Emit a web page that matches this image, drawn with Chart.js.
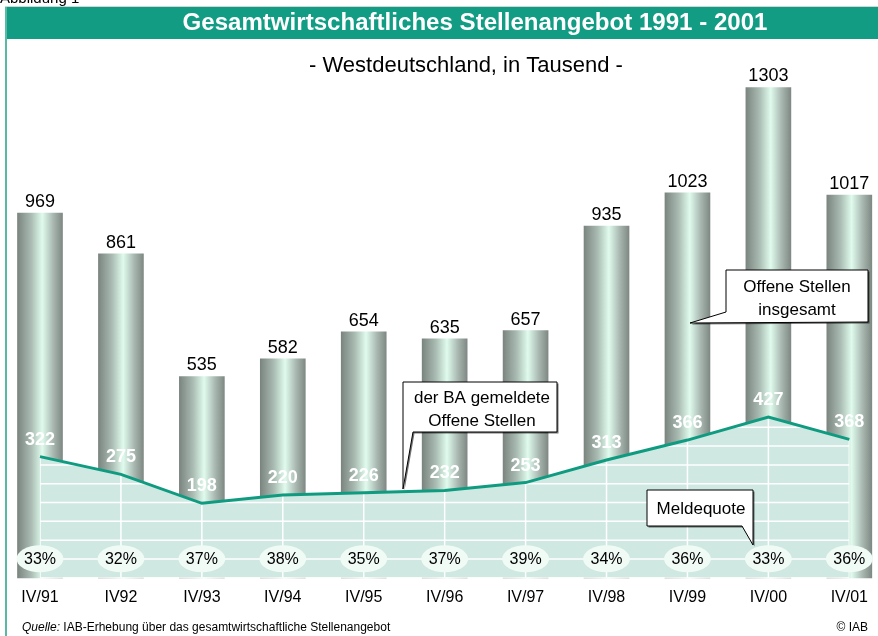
<!DOCTYPE html>
<html>
<head>
<meta charset="utf-8">
<script src="https://cdn.jsdelivr.net/npm/chart.js@4/dist/chart.umd.min.js"></script>
<style>
html,body{margin:0;padding:0;background:#fff;}
#wrap{width:878px;height:636px;}
</style>
</head>
<body>
<div id="wrap"><canvas id="c" width="878" height="636"></canvas></div>
<script>
const categories = ['IV/91','IV92','IV/93','IV/94','IV/95','IV/96','IV/97','IV/98','IV/99','IV/00','IV/01'];
const totalVacancies = [969, 861, 535, 582, 654, 635, 657, 935, 1023, 1303, 1017];
const registeredVacancies = [322, 275, 198, 220, 226, 232, 253, 313, 366, 427, 368];
const reportingRate = [33, 32, 37, 38, 35, 37, 39, 34, 36, 33, 36];
const gridStep = 50;

const FONT = "'Liberation Sans', Arial, sans-serif";
const TEAL = '#119c83';

function barGradient(ctx) {
  const chart = ctx.chart;
  if (ctx.type !== 'data' || !chart.scales.x) return '#a9b3ae';
  const x = chart.scales.x.getPixelForValue(ctx.dataIndex);
  if (!isFinite(x)) return '#a9b3ae';
  const g = chart.ctx.createLinearGradient(x - 22.5, 0, x + 22.5, 0);
  g.addColorStop(0, '#7b8580');
  g.addColorStop(0.3, '#a9bbb2');
  g.addColorStop(0.55, '#e0fbee');
  g.addColorStop(0.8, '#a7b6af');
  g.addColorStop(1, '#7f8984');
  return g;
}

function callout(c, pts, lines, cx, y0, lh) {
  c.save();
  c.beginPath();
  c.moveTo(pts[0][0], pts[0][1]);
  for (let i = 1; i < pts.length; i++) c.lineTo(pts[i][0], pts[i][1]);
  c.closePath();
  c.shadowColor = 'rgba(0,0,0,0.55)';
  c.shadowOffsetX = 1.5;
  c.shadowOffsetY = 1.5;
  c.fillStyle = '#fff';
  c.fill();
  c.shadowColor = 'transparent';
  c.strokeStyle = '#000';
  c.lineWidth = 1;
  c.stroke();
  c.fillStyle = '#000';
  c.font = '17px ' + FONT;
  c.textAlign = 'center';
  c.textBaseline = 'middle';
  lines.forEach((t, i) => c.fillText(t, cx, y0 + i * lh));
  c.restore();
}

const decor = {
  id: 'decor',
  beforeDraw(chart) {
    const c = chart.ctx;
    c.save();
    c.fillStyle = '#fff';
    c.fillRect(0, 0, chart.width, chart.height);
    c.fillStyle = '#000';
    c.font = '15px ' + FONT;
    c.textBaseline = 'alphabetic';
    c.textAlign = 'left';
    c.fillText('Abbildung 1', 0, 3);
    c.fillStyle = '#cfd8d5';
    c.fillRect(5, 6, 873, 1);
    c.fillStyle = TEAL;
    c.fillRect(5, 7, 873, 32);
    c.fillStyle = '#58b9a4';
    c.fillRect(5, 7, 2, 629);
    c.fillStyle = '#fff';
    c.font = 'bold 23px ' + FONT;
    const title = 'Gesamtwirtschaftliches Stellenangebot 1991 - 2001';
    const w = c.measureText(title).width;
    const sx = 585 / w;
    c.save();
    c.translate(475, 24);
    c.scale(sx, 1);
    c.textAlign = 'center';
    c.textBaseline = 'middle';
    c.fillText(title, 0, 0);
    c.restore();
    c.fillStyle = '#000';
    c.font = '22px ' + FONT;
    c.textAlign = 'center';
    c.textBaseline = 'middle';
    c.fillText('- Westdeutschland, in Tausend -', 466, 66);
    c.textBaseline = 'alphabetic';
    c.textAlign = 'left';
    c.font = 'italic 12px ' + FONT;
    c.fillText('Quelle:', 22, 631);
    const qw = c.measureText('Quelle: ').width;
    c.font = '12px ' + FONT;
    c.fillText('IAB-Erhebung über das gesamtwirtschaftliche Stellenangebot', 22 + qw, 631);
    c.textAlign = 'right';
    c.fillText('© IAB', 868, 631);
    c.restore();
  },
  beforeDatasetDraw(chart, args) {
    if (args.index !== 1) return;
    const c = chart.ctx;
    const meta = chart.getDatasetMeta(1);
    const pts = meta.data;
    const ys = chart.scales.y;
    const bottom = ys.getPixelForValue(0);
    c.save();
    c.beginPath();
    c.moveTo(pts[0].x, bottom);
    pts.forEach(p => c.lineTo(p.x, p.y));
    c.lineTo(pts[pts.length - 1].x, bottom);
    c.closePath();
    c.clip();
    c.strokeStyle = '#ffffff';
    c.lineWidth = 1.5;
    const maxV = Math.max(...registeredVacancies);
    for (let v = 0; v <= maxV + gridStep; v += gridStep) {
      const y = ys.getPixelForValue(v);
      c.beginPath();
      c.moveTo(pts[0].x, y);
      c.lineTo(pts[pts.length - 1].x, y);
      c.stroke();
    }
    pts.forEach(p => {
      c.beginPath();
      c.moveTo(p.x, bottom);
      c.lineTo(p.x, p.y);
      c.stroke();
    });
    c.restore();
  },
  afterDatasetsDraw(chart) {
    const c = chart.ctx;
    const bars = chart.getDatasetMeta(0).data;
    const pts = chart.getDatasetMeta(1).data;
    c.save();
    c.fillStyle = '#000';
    c.font = '18px ' + FONT;
    c.textAlign = 'center';
    c.textBaseline = 'alphabetic';
    bars.forEach((b, i) => c.fillText(String(totalVacancies[i]), b.x, b.y - 6));
    c.fillStyle = '#fff';
    c.font = 'bold 18px ' + FONT;
    c.textBaseline = 'middle';
    pts.forEach((p, i) => c.fillText(String(registeredVacancies[i]), p.x, p.y - 17));
    const ey = chart.scales.y.getPixelForValue(0) - 19;
    c.font = '16px ' + FONT;
    pts.forEach((p, i) => {
      c.beginPath();
      c.ellipse(p.x, ey, 23.5, 13.5, 0, 0, Math.PI * 2);
      c.fillStyle = '#f1fbf6';
      c.fill();
      c.fillStyle = '#000';
      c.fillText(reportingRate[i] + '%', p.x, ey + 1);
    });
    c.restore();
    callout(c, [[726,270],[868,270],[868,322],[690,323],[726,312]], ['Offene Stellen','insgesamt'], 797, 287, 23);
    callout(c, [[403,382],[557,382],[557,432],[413,432],[403,489],[403,432]], ['der BA gemeldete','Offene Stellen'], 482, 398, 23);
    callout(c, [[647,490],[753,490],[753,526],[753,545],[742,526],[647,526]], ['Meldequote'], 701, 509, 23);
  }
};

new Chart(document.getElementById('c'), {
  data: {
    labels: categories,
    datasets: [
      {
        type: 'bar',
        label: 'Offene Stellen insgesamt',
        data: totalVacancies,
        backgroundColor: barGradient,
        borderWidth: 0,
        barThickness: 45,
        clip: false,
        order: 1
      },
      {
        type: 'line',
        label: 'der BA gemeldete Offene Stellen',
        data: registeredVacancies,
        borderColor: '#0f9b80',
        borderWidth: 3,
        backgroundColor: '#cfe8e2',
        fill: 'origin',
        tension: 0,
        pointRadius: 0,
        order: 0
      }
    ]
  },
  options: {
    responsive: false,
    animation: false,
    devicePixelRatio: 1,
    layout: { padding: { left: 40, right: 27, top: 51, bottom: 19 } },
    plugins: { legend: { display: false }, tooltip: { enabled: false }, title: { display: false } },
    scales: {
      x: {
        type: 'category',
        offset: false,
        grid: { display: false, drawTicks: false },
        border: { display: false },
        ticks: { color: '#000', font: { family: FONT, size: 16 }, padding: 10, maxRotation: 0, autoSkip: false }
      },
      y: {
        display: false,
        min: 0,
        max: 1400
      }
    }
  },
  plugins: [decor]
});
</script>
</body>
</html>
